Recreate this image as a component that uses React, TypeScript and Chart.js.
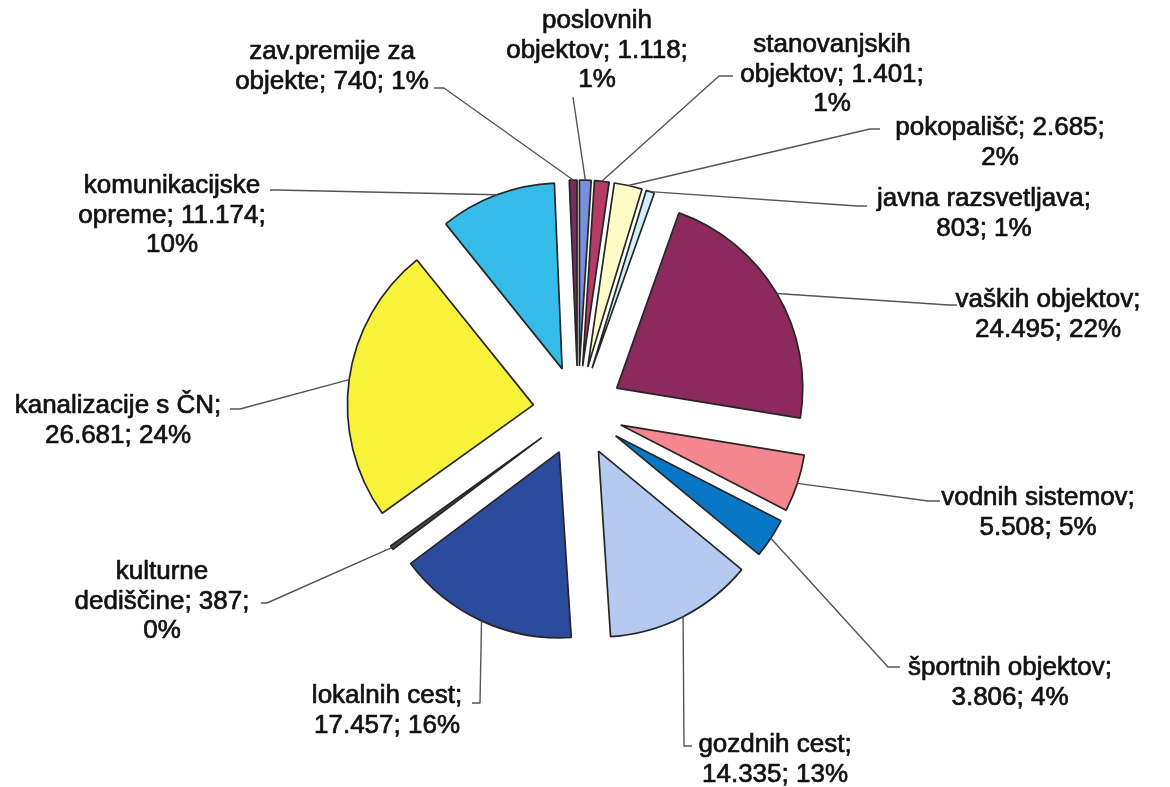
import React, { useEffect, useRef } from "react";
import { Chart, registerables } from "chart.js";

Chart.register(...registerables);

// ---- data (clockwise from 12 o'clock) ----
const categories = [
  "poslovnih objektov",
  "stanovanjskih objektov",
  "pokopališč",
  "javna razsvetljava",
  "vaških objektov",
  "vodnih sistemov",
  "športnih objektov",
  "gozdnih cest",
  "lokalnih cest",
  "kulturne dediščine",
  "kanalizacije s ČN",
  "komunikacijske opreme",
  "zav.premije za objekte",
];
const values = [1118, 1401, 2685, 803, 24495, 5508, 3806, 14335, 17457, 387, 26681, 11174, 740];
const sliceColors = [
  "#7890dc",
  "#b43c66",
  "#fffcc8",
  "#d2eef8",
  "#8c2a5e",
  "#f4868e",
  "#0a76c6",
  "#b6c9f0",
  "#2c4b9c",
  "#4a4a4a",
  "#f8f23a",
  "#36bce8",
  "#7a2c5c",
];
// number of words on each wrapped label line
const lineWords = [
  [1, 2, 1],
  [1, 2, 1],
  [2, 1],
  [2, 2],
  [2, 2],
  [2, 2],
  [2, 2],
  [2, 2],
  [2, 2],
  [1, 2, 1],
  [3, 2],
  [1, 2, 1],
  [2, 3],
];

// ---- label layout (label centre of first line, leader attach point, tick) ----
const labelLayout = [
  { x: 597, y: 21, ax: 573, ay: 97, tick: 0 },
  { x: 832, y: 45, ax: 733, ay: 76, tick: -14 },
  { x: 1000, y: 128, ax: 880, ay: 129, tick: -10 },
  { x: 984, y: 199, ax: 867, ay: 206, tick: -10 },
  { x: 1048, y: 300, ax: 957, ay: 305, tick: -8 },
  { x: 1038, y: 498, ax: 940, ay: 501, tick: -12 },
  { x: 1010, y: 668, ax: 900, ay: 667, tick: -12 },
  { x: 775, y: 745, ax: 692, ay: 746, tick: -8 },
  { x: 387, y: 696, ax: 472, ay: 703, tick: 8 },
  { x: 162, y: 572, ax: 261, ay: 603, tick: 6 },
  { x: 118, y: 406, ax: 230, ay: 409, tick: 10 },
  { x: 172, y: 186, ax: 270, ay: 190, tick: 6 },
  { x: 332, y: 52, ax: 434, ay: 88, tick: 10 },
];

const EXPLODE = 45;
const LINE_H = 29.5;
const FONT = '26px "Liberation Sans", Arial, sans-serif';

function fmt(v: number): string {
  return String(v).replace(/\B(?=(\d{3})+(?!\d))/g, ".");
}

// Excel-style percentages (largest remainder, summing to 100)
function percents(vals: number[]): number[] {
  const total = vals.reduce((a, b) => a + b, 0);
  const raw = vals.map((v) => (v / total) * 100);
  const fl = raw.map((r) => Math.floor(r));
  let left = 100 - fl.reduce((a, b) => a + b, 0);
  const order = raw
    .map((r, i) => ({ i, rem: r - Math.floor(r) }))
    .sort((a, b) => b.rem - a.rem);
  for (let k = 0; k < order.length && left > 0; k++, left--) fl[order[k].i] += 1;
  return fl;
}

function labelLines(i: number, pcts: number[]): string[] {
  const words = `${categories[i]}; ${fmt(values[i])}; ${pcts[i]}%`.split(" ");
  const out: string[] = [];
  let p = 0;
  for (const n of lineWords[i]) {
    out.push(words.slice(p, p + n).join(" "));
    p += n;
  }
  return out;
}

const explodePlugin = {
  id: "explodeSlices",
  afterDatasetsUpdate(chart: any) {
    const meta = chart.getDatasetMeta(0);
    const ca = chart.chartArea;
    const cx = (ca.left + ca.right) / 2;
    const cy = (ca.top + ca.bottom) / 2;
    meta.data.forEach((arc: any) => {
      const mid = (arc.startAngle + arc.endAngle) / 2;
      arc.x = cx + Math.cos(mid) * EXPLODE;
      arc.y = cy + Math.sin(mid) * EXPLODE;
    });
  },
};

const labelPlugin = {
  id: "outsideLabels",
  afterDatasetsDraw(chart: any) {
    const ctx: CanvasRenderingContext2D = chart.ctx;
    const meta = chart.getDatasetMeta(0);
    const pcts = percents(values);
    ctx.save();
    meta.data.forEach((arc: any, i: number) => {
      const L = labelLayout[i];
      const mid = (arc.startAngle + arc.endAngle) / 2;
      const ex = arc.x + Math.cos(mid) * arc.outerRadius;
      const ey = arc.y + Math.sin(mid) * arc.outerRadius;
      ctx.beginPath();
      ctx.moveTo(L.ax, L.ay);
      ctx.lineTo(L.ax + L.tick, L.ay);
      ctx.lineTo(ex, ey);
      ctx.strokeStyle = "#555555";
      ctx.lineWidth = 1.4;
      ctx.stroke();

      ctx.font = FONT;
      ctx.fillStyle = "#121212";
      ctx.strokeStyle = "#121212";
      ctx.lineWidth = 0.7;
      ctx.lineJoin = "round";
      ctx.textAlign = "center";
      ctx.textBaseline = "middle";
      labelLines(i, pcts).forEach((t, j) => {
        ctx.fillText(t, L.x, L.y + j * LINE_H);
        ctx.strokeText(t, L.x, L.y + j * LINE_H);
      });
    });
    ctx.restore();
  },
};

export default function App() {
  const ref = useRef<HTMLCanvasElement | null>(null);
  useEffect(() => {
    if (!ref.current) return;
    const chart = new Chart(ref.current, {
      type: "pie",
      data: {
        labels: categories,
        datasets: [
          {
            data: values,
            backgroundColor: sliceColors,
            borderColor: "#262626",
            borderWidth: 1.7,
          },
        ],
      },
      options: {
        responsive: false,
        animation: false,
        radius: 186,
        layout: { padding: { left: 392, right: 406, top: 225, bottom: 190 } },
        plugins: {
          legend: { display: false },
          tooltip: { enabled: false },
        },
        events: [],
      } as any,
      plugins: [explodePlugin, labelPlugin],
    });
    return () => chart.destroy();
  }, []);
  return (
    <div style={{ position: "fixed", left: 0, top: 0, width: 1170, height: 787, background: "#fff" }}>
      <canvas ref={ref} width={1170} height={787} style={{ display: "block" }} />
    </div>
  );
}
